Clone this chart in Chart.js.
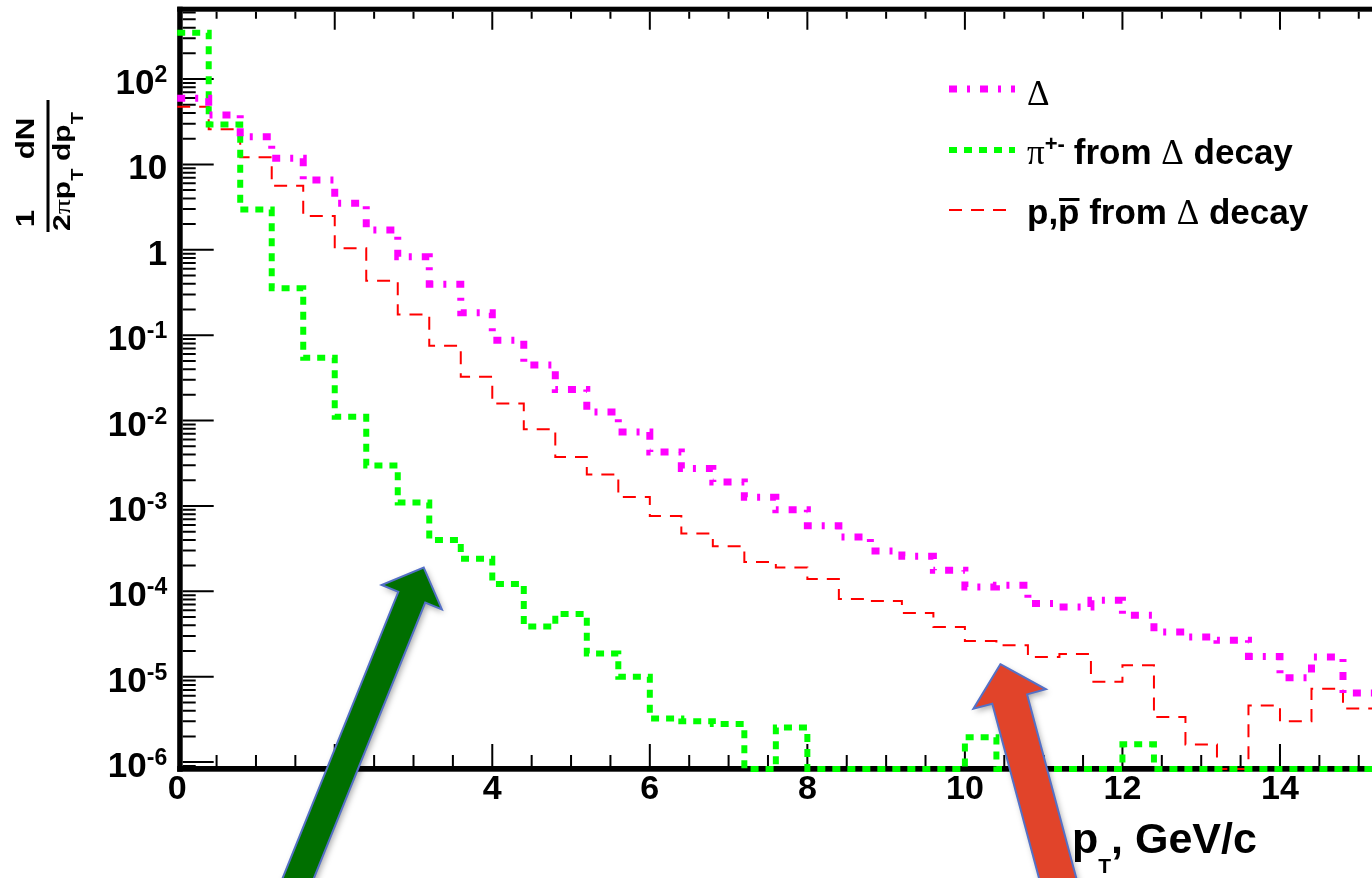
<!DOCTYPE html>
<html>
<head>
<meta charset="utf-8">
<script src="https://cdn.jsdelivr.net/npm/chart.js@4.4.1/dist/chart.umd.min.js"></script>
<style>
html, body { margin: 0; padding: 0; overflow: hidden; background: #fff; }
canvas { display: block; }
</style>
</head>
<body>
<canvas id="ptChart" width="1380" height="878"></canvas>
<script>
// histogram bin edges, pT in GeV/c (0.4 wide bins)
const binEdges = [0, 0.4, 0.8, 1.2, 1.6, 2.0, 2.4, 2.8, 3.2, 3.6, 4.0, 4.4, 4.8, 5.2, 5.6, 6.0,
    6.4, 6.8, 7.2, 7.6, 8.0, 8.4, 8.8, 9.2, 9.6, 10.0, 10.4, 10.8, 11.2, 11.6, 12.0,
    12.4, 12.8, 13.2, 13.6, 14.0, 14.4, 14.8, 15.2];

// Delta spectrum
const deltaValues = [59.5, 37.9, 21.1, 11.8, 6.56, 3.50, 1.70, 0.83, 0.396, 0.183,
    0.0875, 0.0446, 0.0231, 0.0126, 0.00736, 0.00429, 0.00274, 0.00191, 0.00126, 9.0e-4,
    5.86e-4, 4.33e-4, 2.97e-4, 2.57e-4, 1.76e-4, 1.12e-4, 1.18e-4, 7.18e-5, 6.55e-5, 7.85e-5,
    5.24e-5, 3.34e-5, 2.92e-5, 2.67e-5, 1.73e-5, 9.75e-6, 1.70e-5, 6.43e-6];

// pi+- from Delta decay (0 = empty bin)
const pionValues = [349, 29.4, 2.96, 0.354, 0.0545, 0.0111, 0.00298, 0.0011, 4.0e-4, 2.4e-4,
    1.22e-4, 3.86e-5, 5.43e-5, 1.87e-5, 1.0e-5, 3.24e-6, 3.0e-6, 2.8e-6, 0, 2.55e-6,
    0, 0, 0, 0, 0, 1.95e-6, 0, 0, 0, 0,
    1.62e-6, 0, 0, 0, 0, 0, 0, 0];

// p, pbar from Delta decay
const protonValues = [47.4, 25.8, 12.1, 5.62, 2.48, 1.04, 0.433, 0.175, 0.075, 0.0325,
    0.0158, 0.00792, 0.00375, 0.00233, 0.00127, 7.63e-4, 4.75e-4, 3.37e-4, 2.21e-4, 1.90e-4,
    1.39e-4, 8.13e-5, 7.7e-5, 5.57e-5, 3.82e-5, 2.62e-5, 2.33e-5, 1.70e-5, 1.84e-5, 8.75e-6,
    1.36e-5, 3.37e-6, 1.61e-6, 0, 4.61e-6, 3.0e-6, 7.24e-6, 4.23e-6];

const xRange = [0, 15.2];
const yRange = [8.3e-7, 661];
const xTickValues = [0, 2, 4, 6, 8, 10, 12, 14];
const yTickValues = [1e-6, 1e-5, 1e-4, 1e-3, 1e-2, 1e-1, 1, 10, 100];
const yTickBase = ["10", "10", "10", "10", "10", "10", "1", "10", "10"];
const yTickExp = ["-6", "-5", "-4", "-3", "-2", "-1", "", "", "2"];

const SANS = '"Liberation Sans", Arial, sans-serif';
const SERIF = '"Liberation Serif", "DejaVu Serif", serif';
const B = s => "bold " + s + "px " + SANS;
const S = s => s + "px " + SERIF;

// ROOT draws empty bins on the bottom of the frame
function histPoints(values) {
    let pts = values.map((v, i) => ({ x: binEdges[i], y: v > 0 ? v : yRange[0] }));
    pts.push({ x: binEdges[values.length], y: pts[pts.length - 1].y });
    return pts;
}

// draw a run of text pieces, returns total width
function richText(ctx, x, y, parts, measureOnly) {
    let cx = x;
    parts.forEach(p => {
        ctx.font = p.font;
        let w = ctx.measureText(p.t).width;
        if (!measureOnly) {
            ctx.fillText(p.t, cx, y + (p.dy || 0));
            if (p.over) {
                ctx.fillRect(cx + 1, y - p.over, w - 1, 3);
            }
        }
        cx += w + (p.gap || 0);
    });
    return cx - x;
}

function drawArrow(ctx, tipX, tipY, angle, headLen, headHalf, shaftHalf, len, fill) {
    const a = angle * Math.PI / 180;
    const d = [Math.sin(a), Math.cos(a)];
    const n = [Math.cos(a), -Math.sin(a)];
    const pt = (along, side) => [tipX + d[0] * along + n[0] * side, tipY + d[1] * along + n[1] * side];
    const poly = [pt(0, 0), pt(headLen, headHalf), pt(headLen, shaftHalf), pt(len, shaftHalf),
        pt(len, -shaftHalf), pt(headLen, -shaftHalf), pt(headLen, -headHalf)];
    ctx.save();
    ctx.beginPath();
    poly.forEach((p, i) => i ? ctx.lineTo(p[0], p[1]) : ctx.moveTo(p[0], p[1]));
    ctx.closePath();
    ctx.shadowColor = "rgba(0,0,0,0.35)";
    ctx.shadowBlur = 6;
    ctx.shadowOffsetX = 2;
    ctx.shadowOffsetY = 3;
    ctx.fillStyle = fill;
    ctx.fill();
    ctx.shadowColor = "transparent";
    ctx.lineWidth = 2;
    ctx.strokeStyle = "#5470c6";
    ctx.stroke();
    ctx.restore();
}

const frameTicks = {
    id: "frameTicks",
    beforeDatasetsDraw(chart) {
        const { ctx, chartArea: a, scales: { x, y } } = chart;
        ctx.save();
        ctx.fillStyle = "#000";
        ctx.fillRect(a.left, a.top - 2.3, a.right - a.left, 5);
        ctx.fillRect(a.left, a.bottom - 3, a.right - a.left, 5.7);
        ctx.fillRect(a.left, a.top - 2.3, 5.5, a.bottom - a.top + 5);

        ctx.strokeStyle = "#000";
        ctx.lineWidth = 2;
        ctx.beginPath();
        for (let k = 1; k <= 30; k++) {
            let px = x.getPixelForValue(k * 0.5);
            let major = k % 4 === 0;
            ctx.moveTo(px, a.bottom - 3);
            ctx.lineTo(px, a.bottom - 3 - (major ? 22 : 11));
            ctx.moveTo(px, a.top + 2.7);
            ctx.lineTo(px, a.top + 2.7 + (major ? 18 : 7));
        }
        for (let e = -7; e <= 2; e++) {
            for (let m = 1; m <= 9; m++) {
                let v = m * Math.pow(10, e);
                if (v < y.min || v > y.max) continue;
                let py = y.getPixelForValue(v);
                ctx.moveTo(a.left + 5.5, py);
                ctx.lineTo(a.left + 5.5 + (m === 1 ? 31 : 13), py);
            }
        }
        ctx.stroke();

        // y tick labels with real superscripts
        ctx.textBaseline = "alphabetic";
        ctx.textAlign = "left";
        yTickValues.forEach((v, i) => {
            let parts = [{ t: yTickBase[i], font: B(35) }];
            if (yTickExp[i]) parts.push({ t: yTickExp[i], font: B(23), dy: -12 });
            let w = richText(ctx, 0, 0, parts, true);
            richText(ctx, a.left - 10 - w, y.getPixelForValue(v) + 15, parts);
        });
        ctx.restore();
    }
};

const extras = {
    id: "extras",
    afterDraw(chart) {
        const { ctx, chartArea: a, scales: { x, y } } = chart;
        ctx.save();
        ctx.fillStyle = "#000";
        ctx.textAlign = "left";
        ctx.textBaseline = "alphabetic";

        // y title: 1/(2 pi pT) dN/dpT, rotated and a bit stretched along its length
        ctx.save();
        ctx.translate(48, 166);
        ctx.rotate(-Math.PI / 2);
        ctx.fillRect(-66, -1.5, 132, 3);
        ctx.scale(1.25, 1);
        ctx.font = B(25);
        ctx.textAlign = "center";
        ctx.fillText("1", -42, -14);
        ctx.fillText("dN", 22, -14);
        ctx.textAlign = "left";
        richText(ctx, -52, 22, [{ t: "2", font: B(24) }, { t: "\u03C0", font: S(24) },
            { t: "p", font: B(24) }, { t: "T", font: B(16), dy: 13 }]);
        richText(ctx, 4, 22, [{ t: "d", font: B(24) }, { t: "p", font: B(24) },
            { t: "T", font: B(16), dy: 13 }]);
        ctx.restore();

        // x title
        richText(ctx, 1072, 853, [{ t: "p", font: B(43) }, { t: "T", font: B(21), dy: 20 },
            { t: ", GeV/c", font: B(43) }]);

        // legend
        const rows = [
            { ds: 0, ly: 89, by: 105, parts: [{ t: "\u0394", font: S(35) }] },
            { ds: 1, ly: 150, by: 164, parts: [{ t: "\u03C0", font: S(35) }, { t: "+-", font: B(22), dy: -13, gap: 9 },
                { t: "from ", font: B(35) }, { t: "\u0394", font: S(35) }, { t: " decay", font: B(35) }] },
            { ds: 2, ly: 210, by: 224, parts: [{ t: "p,", font: B(35) }, { t: "p", font: B(35), over: 26 },
                { t: " from ", font: B(35) }, { t: "\u0394", font: S(35) }, { t: " decay", font: B(35) }] }
        ];
        rows.forEach(r => {
            const ds = chart.data.datasets[r.ds];
            ctx.save();
            ctx.strokeStyle = ds.borderColor;
            ctx.lineWidth = ds.borderWidth;
            ctx.setLineDash(ds.borderDash);
            ctx.beginPath();
            ctx.moveTo(949, r.ly);
            ctx.lineTo(1015, r.ly);
            ctx.stroke();
            ctx.restore();
            richText(ctx, 1027, r.by, r.parts);
        });

        // arrows pointing at the pion and proton tails
        drawArrow(ctx, x.getPixelForValue(3.13), y.getPixelForValue(1.9e-4), -22, 32, 32.5, 14.5, 380, "#006f00");
        drawArrow(ctx, x.getPixelForValue(10.45), y.getPixelForValue(1.4e-5), 15, 36, 37.5, 18, 260, "#e1442a");
        ctx.restore();
    }
};

new Chart(document.getElementById("ptChart"), {
    type: "line",
    data: {
        datasets: [
            {
                label: "\u0394",
                data: histPoints(deltaValues),
                borderColor: "#ff00ff",
                borderWidth: 7,
                borderDash: [8, 10, 3, 10],
                stepped: true,
                pointRadius: 0,
                fill: false,
                clip: false
            },
            {
                label: "\u03C0+- from \u0394 decay",
                data: histPoints(pionValues),
                borderColor: "#00ff00",
                borderWidth: 6,
                borderDash: [8, 7],
                stepped: true,
                pointRadius: 0,
                fill: false,
                clip: false
            },
            {
                label: "p,pbar from \u0394 decay",
                data: histPoints(protonValues),
                borderColor: "#ff0000",
                borderWidth: 2,
                borderDash: [13, 9],
                stepped: true,
                pointRadius: 0,
                fill: false,
                clip: false
            }
        ]
    },
    options: {
        responsive: false,
        animation: false,
        devicePixelRatio: 1,
        layout: { padding: { top: 9, right: 5.5, left: 0, bottom: 0 } },
        plugins: { legend: { display: false }, tooltip: { enabled: false } },
        scales: {
            x: {
                type: "linear",
                min: xRange[0],
                max: xRange[1],
                afterBuildTicks: s => { s.ticks = xTickValues.map(v => ({ value: v })); },
                afterFit: s => { s.height = 109; s.paddingLeft = 0; s.paddingRight = 0; },
                ticks: {
                    callback: v => String(v),
                    font: { family: SANS, size: 34, weight: "bold" },
                    color: "#000",
                    padding: 0,
                    maxRotation: 0
                },
                grid: { display: false, drawTicks: false },
                border: { display: false }
            },
            y: {
                type: "logarithmic",
                min: yRange[0],
                max: yRange[1],
                afterBuildTicks: s => { s.ticks = yTickValues.map(v => ({ value: v })); },
                afterFit: s => { s.width = 177.2; s.paddingTop = 0; s.paddingBottom = 0; },
                ticks: { display: false },
                grid: { display: false, drawTicks: false },
                border: { display: false }
            }
        }
    },
    plugins: [frameTicks, extras]
});
</script>
</body>
</html>
